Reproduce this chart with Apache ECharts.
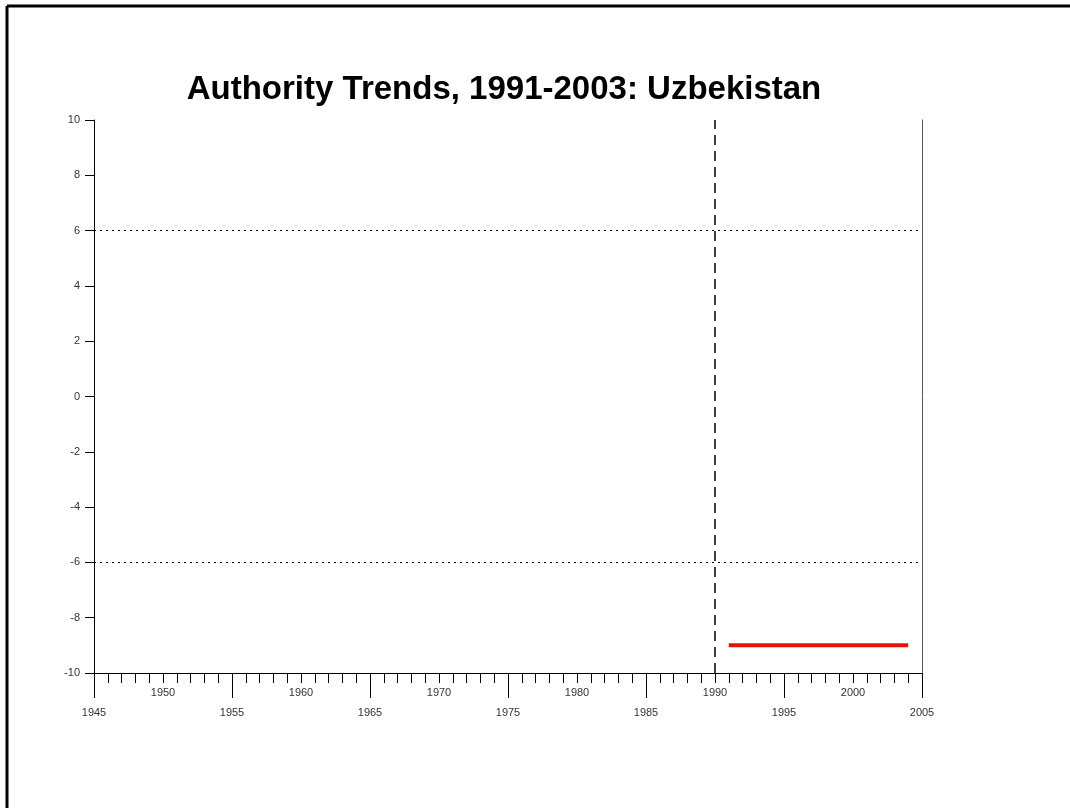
<!DOCTYPE html>
<html>
<head>
<meta charset="utf-8">
<title>Authority Trends, 1991-2003: Uzbekistan</title>
<script src="https://cdn.jsdelivr.net/npm/echarts@6/dist/echarts.min.js"></script>
<style>
  html, body { margin: 0; padding: 0; background: #fff; }
  #chart { width: 1070px; height: 808px; }
</style>
</head>
<body>
<div id="chart"></div>
<script>
// year categories along the x axis
const years = []
for (let y = 1945; y <= 2005; y++) years.push(String(y))

// polity series: Uzbekistan
const polityYears = ['1991', '2004']
const polityValues = [-9, -9]

// reference lines
const regimeBands = [6, -6]
const markYear = '1990'

const yTicks = { min: -10, max: 10, step: 2 }

const chart = echarts.init(document.getElementById('chart'))

const font = 'Liberation Sans, Arial, sans-serif'

chart.setOption({
  animation: false,
  backgroundColor: '#fff',
  title: {
    text: 'Authority Trends, 1991-2003: Uzbekistan',
    left: 499,
    textAlign: 'center',
    top: 68,
    textStyle: { fontFamily: font, fontSize: 33, fontWeight: 'bold', color: '#000' }
  },
  graphic: [
    { type: 'line', shape: { x1: 7, y1: 6, x2: 1070, y2: 6 }, style: { stroke: '#000', lineWidth: 3 } },
    { type: 'line', shape: { x1: 7, y1: 6, x2: 7, y2: 808 }, style: { stroke: '#000', lineWidth: 3 } }
  ],
  grid: { left: 94, right: 148, top: 120, bottom: 135 },
  xAxis: [
    {
      type: 'category',
      data: years,
      boundaryGap: false,
      position: 'bottom',
      axisLine: { show: true, onZero: false, lineStyle: { color: '#000', width: 1 } },
      axisTick: { show: true, interval: 0, length: 10, lineStyle: { color: '#000' } },
      axisLabel: {
        interval: (i) => i % 10 === 5,
        margin: 14,
        fontFamily: font,
        fontSize: 11,
        color: '#333'
      },
      splitLine: { show: false }
    },
    {
      type: 'category',
      data: years,
      boundaryGap: false,
      position: 'bottom',
      axisLine: { show: false, onZero: false },
      axisTick: { show: true, interval: (i) => i % 10 === 0, length: 25, lineStyle: { color: '#000' } },
      axisLabel: {
        interval: (i) => i % 10 === 0,
        margin: 34,
        fontFamily: font,
        fontSize: 11,
        color: '#333'
      },
      splitLine: { show: false }
    }
  ],
  yAxis: [
    {
      type: 'value',
      min: yTicks.min,
      max: yTicks.max,
      interval: yTicks.step,
      position: 'left',
      axisLine: { show: true, onZero: false, lineStyle: { color: '#000' } },
      axisTick: { show: true, length: 9, lineStyle: { color: '#000' } },
      axisLabel: { margin: 14, fontFamily: font, fontSize: 11, color: '#333' },
      splitLine: { show: false }
    },
    {
      type: 'value',
      min: yTicks.min,
      max: yTicks.max,
      position: 'right',
      axisLine: { show: true, onZero: false, lineStyle: { color: '#555' } },
      axisTick: { show: false },
      axisLabel: { show: false },
      splitLine: { show: false }
    }
  ],
  series: [
    {
      name: 'Polity',
      type: 'line',
      xAxisIndex: 0,
      yAxisIndex: 0,
      data: polityYears.map((y, i) => [y, polityValues[i]]),
      symbol: 'none',
      lineStyle: { color: '#e3120b', width: 4 },
      markLine: {
        silent: true,
        symbol: 'none',
        label: { show: false },
        data: [
          ...regimeBands.map(v => ({ yAxis: v, lineStyle: { type: [2, 4], color: '#000', width: 1 } })),
          { xAxis: markYear, lineStyle: { type: [10, 6], color: '#000', width: 1.5 } }
        ]
      }
    }
  ]
})
</script>
</body>
</html>
